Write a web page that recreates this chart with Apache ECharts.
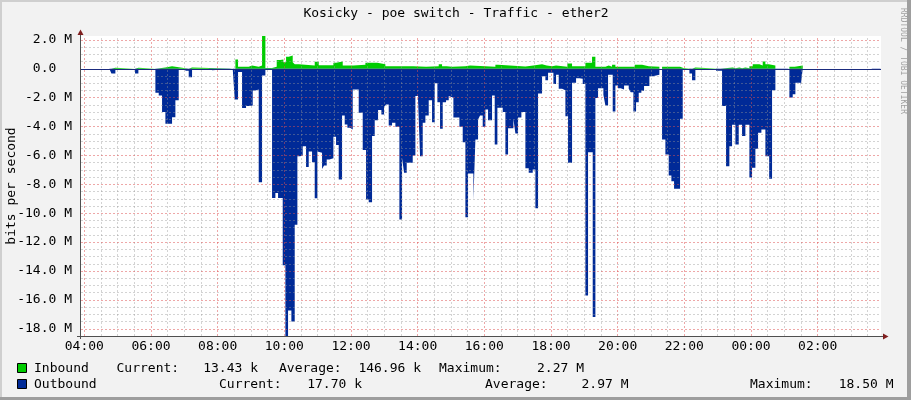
<!DOCTYPE html>
<html><head><meta charset="utf-8">
<script src="https://cdn.jsdelivr.net/npm/echarts@6/dist/echarts.min.js"></script>
<style>html,body{margin:0;padding:0;background:#F2F2F2;}#c{width:911px;height:400px;}</style>
</head><body><div id="c"></div>
<script>
// time in minutes since 00:00 of the first day (values > 1440 are the next day); values in Mbit/s
const outTimes = [234,285.1,288.7,295.9,331.3,337.3,367.9,373.9,379.9,385.9,397.9,403.9,409.9,421.9,427.9,433.9,463.3,470.5,507.1,510.7,516.7,523.9,531.1,538.3,543.1,547.9,553.9,559.9,565.9,571.9,577.9,583.9,588.7,597.1,601.9,606.7,612.7,618.7,623.5,628.3,633.1,639.1,643.9,649.9,654.7,659.5,663.1,667.9,671.5,676.3,681.1,688.3,693.1,697.9,703.9,708.7,713.5,718.3,723.1,733.9,741.1,747.1,751.9,757.9,762.7,768.7,774.7,779.5,783.1,787.9,793.9,799.9,807.1,811.9,815.5,820.3,831.1,835.9,840.7,844.3,849.1,853.9,859.9,865.9,870.7,875.5,880.3,885.1,891.1,895.9,899.5,904.3,915.1,921.1,925.9,930.7,940.3,943.9,948.7,952.3,957.1,961.9,966.7,973.9,978.7,983.5,993.1,997.9,1002.7,1012.3,1015.9,1020.7,1026.7,1033.9,1039.9,1047.1,1051.9,1056.7,1063.9,1069.9,1074.7,1084.3,1089.1,1093.9,1099.9,1105.9,1110.7,1117.9,1125.1,1131.1,1137.1,1141.9,1146.7,1155.1,1159.9,1164.7,1174.3,1177.9,1182.7,1191.1,1195.9,1200.7,1205.5,1211.5,1219.9,1223.5,1228.3,1233.1,1237.9,1242.7,1247.5,1257.1,1263.1,1275.1,1279.9,1285.9,1291.9,1296.7,1301.5,1312.3,1317.1,1329.1,1333.9,1339.9,1377.1,1387.9,1395.1,1401.1,1405.9,1411.9,1417.9,1423.9,1429.9,1437.1,1441.9,1447.9,1452.7,1458.7,1465.9,1472.7,1477.9,1483.9,1489.9,1509.1,1515.1,1519.9,1529.5,1533.1,1656.7,1663.9,1674];
const outVals = [0,-0.1,-0.33,0,-0.32,0,-1.66,-1.85,-3.0,-3.8,-3.35,-2.17,0,-0.14,-0.58,0,-0.1,0,-0.05,-2.12,-0.23,-2.72,-2.58,-2.54,-1.5,-1.43,-7.85,-0.46,-0.05,0,-8.94,-8.6,-8.94,-13.6,-18.5,-16.74,-17.5,-10.8,-6.05,-6.0,-5.36,-6.8,-5.73,-6.47,-8.96,-5.73,-5.82,-6.93,-6.7,-6.28,-6.2,-4.7,-5.27,-7.67,-3.23,-3.86,-4.09,-4.2,-1.43,-3.05,-5.63,-9.05,-9.24,-4.66,-3.56,-2.86,-3.16,-2.63,-2.47,-3.93,-3.74,-4.02,-10.44,-6.17,-7.2,-6.51,-6.0,-1.89,-2.17,-6.05,-3.74,-3.23,-2.17,-3.7,-1.0,-2.31,-4.16,-2.31,-2.17,-1.89,-2.0,-3.37,-4.02,-5.08,-10.27,-7.25,-9.1,-4.9,-3.51,-3.23,-4.02,-2.82,-3.56,-1.85,-5.24,-2.7,-3.0,-5.94,-4.11,-3.46,-4.48,-3.37,-3.0,-6.88,-7.2,-6.97,-9.65,-1.71,-0.51,-0.79,-0.28,-1.06,-0.42,-1.39,-1.48,-3.28,-6.51,-0.97,-0.65,-0.69,-1.06,-15.7,-5.77,-17.18,-2.03,-1.34,-1.8,-2.54,-0.42,-2.96,-1.15,-1.34,-1.43,-1.15,-1.39,-1.62,-2.96,-2.31,-1.66,-1.52,-1.2,-0.51,-0.42,0,-4.9,-5.94,-7.39,-7.78,-8.31,-3.46,0,-0.32,-0.79,0,-0.14,-2.58,-6.74,-5.36,-3.88,-5.24,-3.88,-4.66,-3.88,-7.53,-6.86,-5.54,-4.43,-4.2,-6.05,-7.62,-1.48,-0.09,0,-1.99,-1.76,-0.97,-1.2,0,-0.09,0,0];
const inTimes = [234,288.1,295.9,331.3,337.3,369.1,385.9,397.9,409.9,427.9,433.9,511.9,516.7,535.9,541.9,553.9,559.9,565.9,577.9,586.3,592.3,598.3,603.1,607.9,615.1,618.7,625.9,654.7,661.9,688.3,693.1,705.1,724.3,745.9,767.5,781.9,832.3,834.7,855.1,858.7,877.9,883.9,892.3,901.9,925.9,934.3,979.9,984.7,1033.9,1048.3,1063.9,1072.3,1081.9,1089.1,1109.5,1117.9,1141.9,1153.9,1159.9,1177.9,1183.9,1189.9,1195.9,1230.7,1243.9,1255.9,1275.1,1279.9,1312.3,1318.3,1333.9,1339.9,1384.3,1407.1,1411.9,1419.1,1423.9,1429.9,1437.1,1443.1,1455.1,1461.1,1465.9,1471.9,1483.9,1509.1,1518.7,1533.1,1674];
const inVals = [0,0.07,0,0.07,0,0.09,0.18,0.1,0,0.09,0,0.65,0.14,0.23,0.14,0.23,2.27,0.05,0.14,0.6,0.65,0.46,0.83,0.92,0.46,0.32,0.23,0.48,0.25,0.42,0.51,0.23,0.28,0.42,0.32,0.18,0.28,0.14,0.25,0.18,0.32,0.18,0.14,0.18,0.23,0.14,0.28,0.16,0.23,0.32,0.23,0.18,0.23,0.14,0.37,0.18,0.42,0.83,0.14,0.23,0.14,0.28,0.14,0.28,0.18,0.14,0,0.14,0.05,0,0.09,0,0.09,0.03,0.09,0.03,0.09,0.03,0.18,0.32,0.23,0.51,0.32,0.23,0,0.14,0.23,0,0];

const xTickTimes = [240,360,480,600,720,840,960,1080,1200,1320,1440,1560];
const xTickLabels = ['04:00','06:00','08:00','10:00','12:00','14:00','16:00','18:00','20:00','22:00','00:00','02:00'];
const yTickVals = [2,0,-2,-4,-6,-8,-10,-12,-14,-16,-18];
const yTickLabels = ['2.0 M','0.0  ','-2.0 M','-4.0 M','-6.0 M','-8.0 M','-10.0 M','-12.0 M','-14.0 M','-16.0 M','-18.0 M'];

const titleText = 'Kosicky - poe switch - Traffic - ether2';
const yAxisTitle = 'bits per second';
const seriesNames = ['Inbound','Outbound'];
const inboundStats = ['13.43 k','146.96 k','2.27 M'];
const outboundStats = ['17.70 k','2.97 M','18.50 M'];
const statNames = ['Current:','Average:','Maximum:'];

const MONO = '"DejaVu Sans Mono", monospace';
const C_IN = '#00CC00', C_OUT = '#002A97';
const X_MIN = 234, X_MAX = 1674, Y_MIN = -18.5, Y_MAX = 2.27;

const outData = outTimes.map((t, i) => [t, outVals[i]]);
const inData = inTimes.map((t, i) => [t, inVals[i]]);

// grid lines (drawn above the areas like rrdtool)
const minorStyle = {color: 'rgba(150,150,150,0.42)', width: 1, type: [2, 2]};
const majorStyle = {color: 'rgba(222,79,79,0.5)', width: 1, type: [2, 2]};
const gridLines = [];
for (let t = 240; t < X_MAX; t += 30) {
  gridLines.push({xAxis: t, lineStyle: (t - 240) % 120 === 0 ? majorStyle : minorStyle});
}
for (let k = 0; Y_MIN + 0.5 * (k + 1) <= 2.0001; k++) {
  const v = Y_MIN + 0.5 * (k + 1);
  const isMajor = Math.abs(v / 2 - Math.round(v / 2)) < 1e-6;
  gridLines.push({yAxis: v, lineStyle: isMajor ? majorStyle : minorStyle});
}
gridLines.push({yAxis: 0, lineStyle: {color: '#1B2B7E', width: 1, type: 'solid'}});

function txt(x, y, s, align, extra) {
  return Object.assign({type: 'text', x: x, y: y, silent: true, z: 10,
    style: {text: s, font: '13px ' + MONO, fill: '#000', align: align, textAlign: align,
            verticalAlign: 'middle', textVerticalAlign: 'middle'}}, extra || {});
}

const chart = echarts.init(document.getElementById('c'), null, {renderer: 'canvas'});
chart.setOption({
  animation: false,
  backgroundColor: '#F2F2F2',
  grid: {left: 81, top: 36, width: 800, height: 300, show: true, backgroundColor: '#FFFFFF', borderWidth: 0},
  xAxis: {
    type: 'value', min: X_MIN, max: X_MAX, interval: 6,
    axisLine: {show: false}, axisTick: {show: false}, splitLine: {show: false},
    axisLabel: {
      margin: 4, color: '#000', fontFamily: MONO, fontSize: 13,
      formatter: v => { const i = xTickTimes.findIndex(t => Math.abs(t - v) < 1e-6); return i >= 0 ? xTickLabels[i] : ''; }
    }
  },
  yAxis: {
    type: 'value', min: Y_MIN, max: Y_MAX, interval: 0.5,
    axisLine: {show: false}, axisTick: {show: false}, splitLine: {show: false},
    axisLabel: {
      margin: 9, color: '#000', fontFamily: MONO, fontSize: 13,
      formatter: v => { const i = yTickVals.findIndex(t => Math.abs(t - v) < 1e-6); return i >= 0 ? yTickLabels[i] : ''; }
    }
  },
  series: [
    {name: seriesNames[0], type: 'line', step: 'end', data: inData, symbol: 'none',
     lineStyle: {width: 0}, areaStyle: {color: C_IN, opacity: 1}, silent: true},
    {name: seriesNames[1], type: 'line', step: 'end', data: outData, symbol: 'none',
     lineStyle: {width: 0}, areaStyle: {color: C_OUT, opacity: 1}, silent: true,
     markLine: {silent: true, symbol: ['none', 'none'], label: {show: false}, animation: false, data: gridLines}}
  ],
  graphic: [
    // frame
    {type: 'rect', shape: {x: 0, y: 0, width: 911, height: 2}, style: {fill: '#CFCFCF'}, silent: true},
    {type: 'rect', shape: {x: 0, y: 0, width: 2, height: 400}, style: {fill: '#CFCFCF'}, silent: true},
    {type: 'rect', shape: {x: 0, y: 397, width: 911, height: 3}, style: {fill: '#9E9E9E'}, silent: true},
    {type: 'rect', shape: {x: 907, y: 0, width: 4, height: 400}, style: {fill: '#9E9E9E'}, silent: true},
    // axes
    {type: 'line', shape: {x1: 80.5, y1: 339, x2: 80.5, y2: 34}, style: {stroke: '#505050', lineWidth: 1}, silent: true, z: 10},
    {type: 'line', shape: {x1: 77, y1: 336.5, x2: 884, y2: 336.5}, style: {stroke: '#505050', lineWidth: 1}, silent: true, z: 10},
    {type: 'polygon', shape: {points: [[77.5, 35], [83.5, 35], [80.5, 29.5]]}, style: {fill: '#801F1F'}, silent: true, z: 10},
    {type: 'polygon', shape: {points: [[883, 333.5], [883, 339.5], [888.5, 336.5]]}, style: {fill: '#801F1F'}, silent: true, z: 10},
    // texts
    txt(456, 14, titleText, 'center'),
    txt(11.5, 186, yAxisTitle, 'center', {rotation: Math.PI / 2}),
    {type: 'text', x: 903, y: 61, rotation: -Math.PI / 2, silent: true, z: 10,
     style: {text: 'RRDTOOL / TOBI OETIKER', font: '8px ' + MONO, fill: '#A0A0A0', align: 'center', textAlign: 'center', verticalAlign: 'middle', textVerticalAlign: 'middle'}},
    // legend
    {type: 'rect', shape: {x: 17.5, y: 363.5, width: 9, height: 9}, style: {fill: C_IN, stroke: '#000', lineWidth: 1}, silent: true, z: 10},
    {type: 'rect', shape: {x: 17.5, y: 379.5, width: 9, height: 9}, style: {fill: C_OUT, stroke: '#000', lineWidth: 1}, silent: true, z: 10},
    txt(34, 368.5, seriesNames[0], 'left'),
    txt(116.5, 368.5, statNames[0], 'left'),
    txt(258, 368.5, inboundStats[0], 'right'),
    txt(279, 368.5, statNames[1], 'left'),
    txt(421, 368.5, inboundStats[1], 'right'),
    txt(439, 368.5, statNames[2], 'left'),
    txt(584, 368.5, inboundStats[2], 'right'),
    txt(34, 384.5, seriesNames[1], 'left'),
    txt(219, 384.5, statNames[0], 'left'),
    txt(362, 384.5, outboundStats[0], 'right'),
    txt(485, 384.5, statNames[1], 'left'),
    txt(628.5, 384.5, outboundStats[1], 'right'),
    txt(750, 384.5, statNames[2], 'left'),
    txt(893.5, 384.5, outboundStats[2], 'right')
  ]
});
</script></body></html>
